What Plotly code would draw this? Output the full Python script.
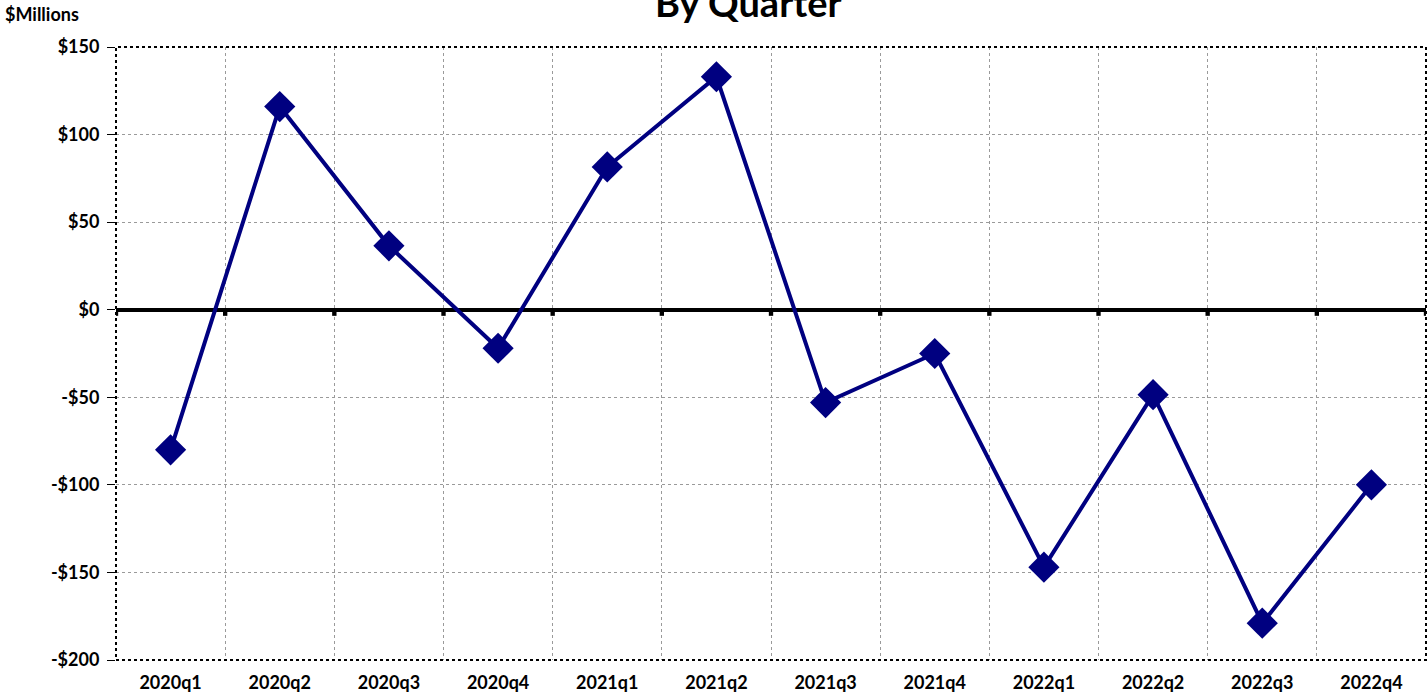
import plotly.graph_objects as go

quarters = ["2020q1", "2020q2", "2020q3", "2020q4", "2021q1", "2021q2",
            "2021q3", "2021q4", "2022q1", "2022q2", "2022q3", "2022q4"]
values = [-80, 116, 36.5, -22, 81.5, 133, -53, -25, -147, -48.5, -179, -100]
ytick_vals = [150, 100, 50, 0, -50, -100, -150, -200]
ytick_text = ["$150", "$100", "$50", "$0", "-$50", "-$100", "-$150", "-$200"]

FONT = "Lato"
NAVY = "#000080"

fig = go.Figure()
fig.add_trace(go.Scatter(
    x=quarters, y=values, mode="lines+markers",
    line=dict(color=NAVY, width=4),
    marker=dict(symbol="diamond", size=24, color=NAVY),
    cliponaxis=False, showlegend=False,
))

# small tick marks on the zero line at category boundaries
shapes = []
for i in range(len(quarters) + 1):
    shapes.append(dict(type="rect", xref="x", yref="y",
                       x0=i - 0.5 - 0.02, x1=i - 0.5 + 0.02, y0=0, y1=-3.5,
                       line=dict(width=0), fillcolor="black", layer="above"))
# dashed plot border
shapes.append(dict(type="rect", xref="paper", yref="paper", x0=0, x1=1, y0=0, y1=1,
                   line=dict(color="black", width=2, dash="dot"), layer="above"))

fig.update_layout(
    width=1427, height=698,
    margin=dict(l=116, r=1, t=47, b=38, autoexpand=False),
    paper_bgcolor="white", plot_bgcolor="white",
    font=dict(family=FONT, color="black"),
    shapes=shapes,
    xaxis=dict(
        type="category", tickson="boundaries", automargin=False,
        range=[-0.5, len(quarters) - 0.5],
        showgrid=True, gridcolor="#9a9a9a", griddash="dot", gridwidth=1,
        ticks="", tickfont=dict(size=18, family=FONT, weight="bold"),
        showline=False, zeroline=False, ticklabelstandoff=10,
    ),
    yaxis=dict(
        range=[-200, 150], tickvals=ytick_vals, ticktext=ytick_text, automargin=False,
        showgrid=True, gridcolor="#9a9a9a", griddash="dot", gridwidth=1,
        zeroline=True, zerolinecolor="black", zerolinewidth=4,
        ticks="outside", ticklen=8, tickcolor="black", tickwidth=1,
        tickfont=dict(size=18, family=FONT, weight="bold"), ticklabelstandoff=4,
        showline=False,
    ),
    annotations=[
        dict(text="<b>By Quarter</b>", xref="paper", yref="paper",
             x=(749 - 116) / 1310, y=1 + (47 - 2) / 613, xanchor="center", yanchor="middle",
             showarrow=False, font=dict(size=38, family=FONT)),
        dict(text="<b>$Millions</b>", xref="paper", yref="paper",
             x=(3 - 116) / 1310, y=1 + (47 - 14) / 613, xanchor="left", yanchor="middle",
             showarrow=False, font=dict(size=18, family=FONT)),
    ],
)

fig.write_html("out.html", config={"displayModeBar": False},
               post_script="document.body.style.margin='0';document.body.style.overflow='hidden';")
